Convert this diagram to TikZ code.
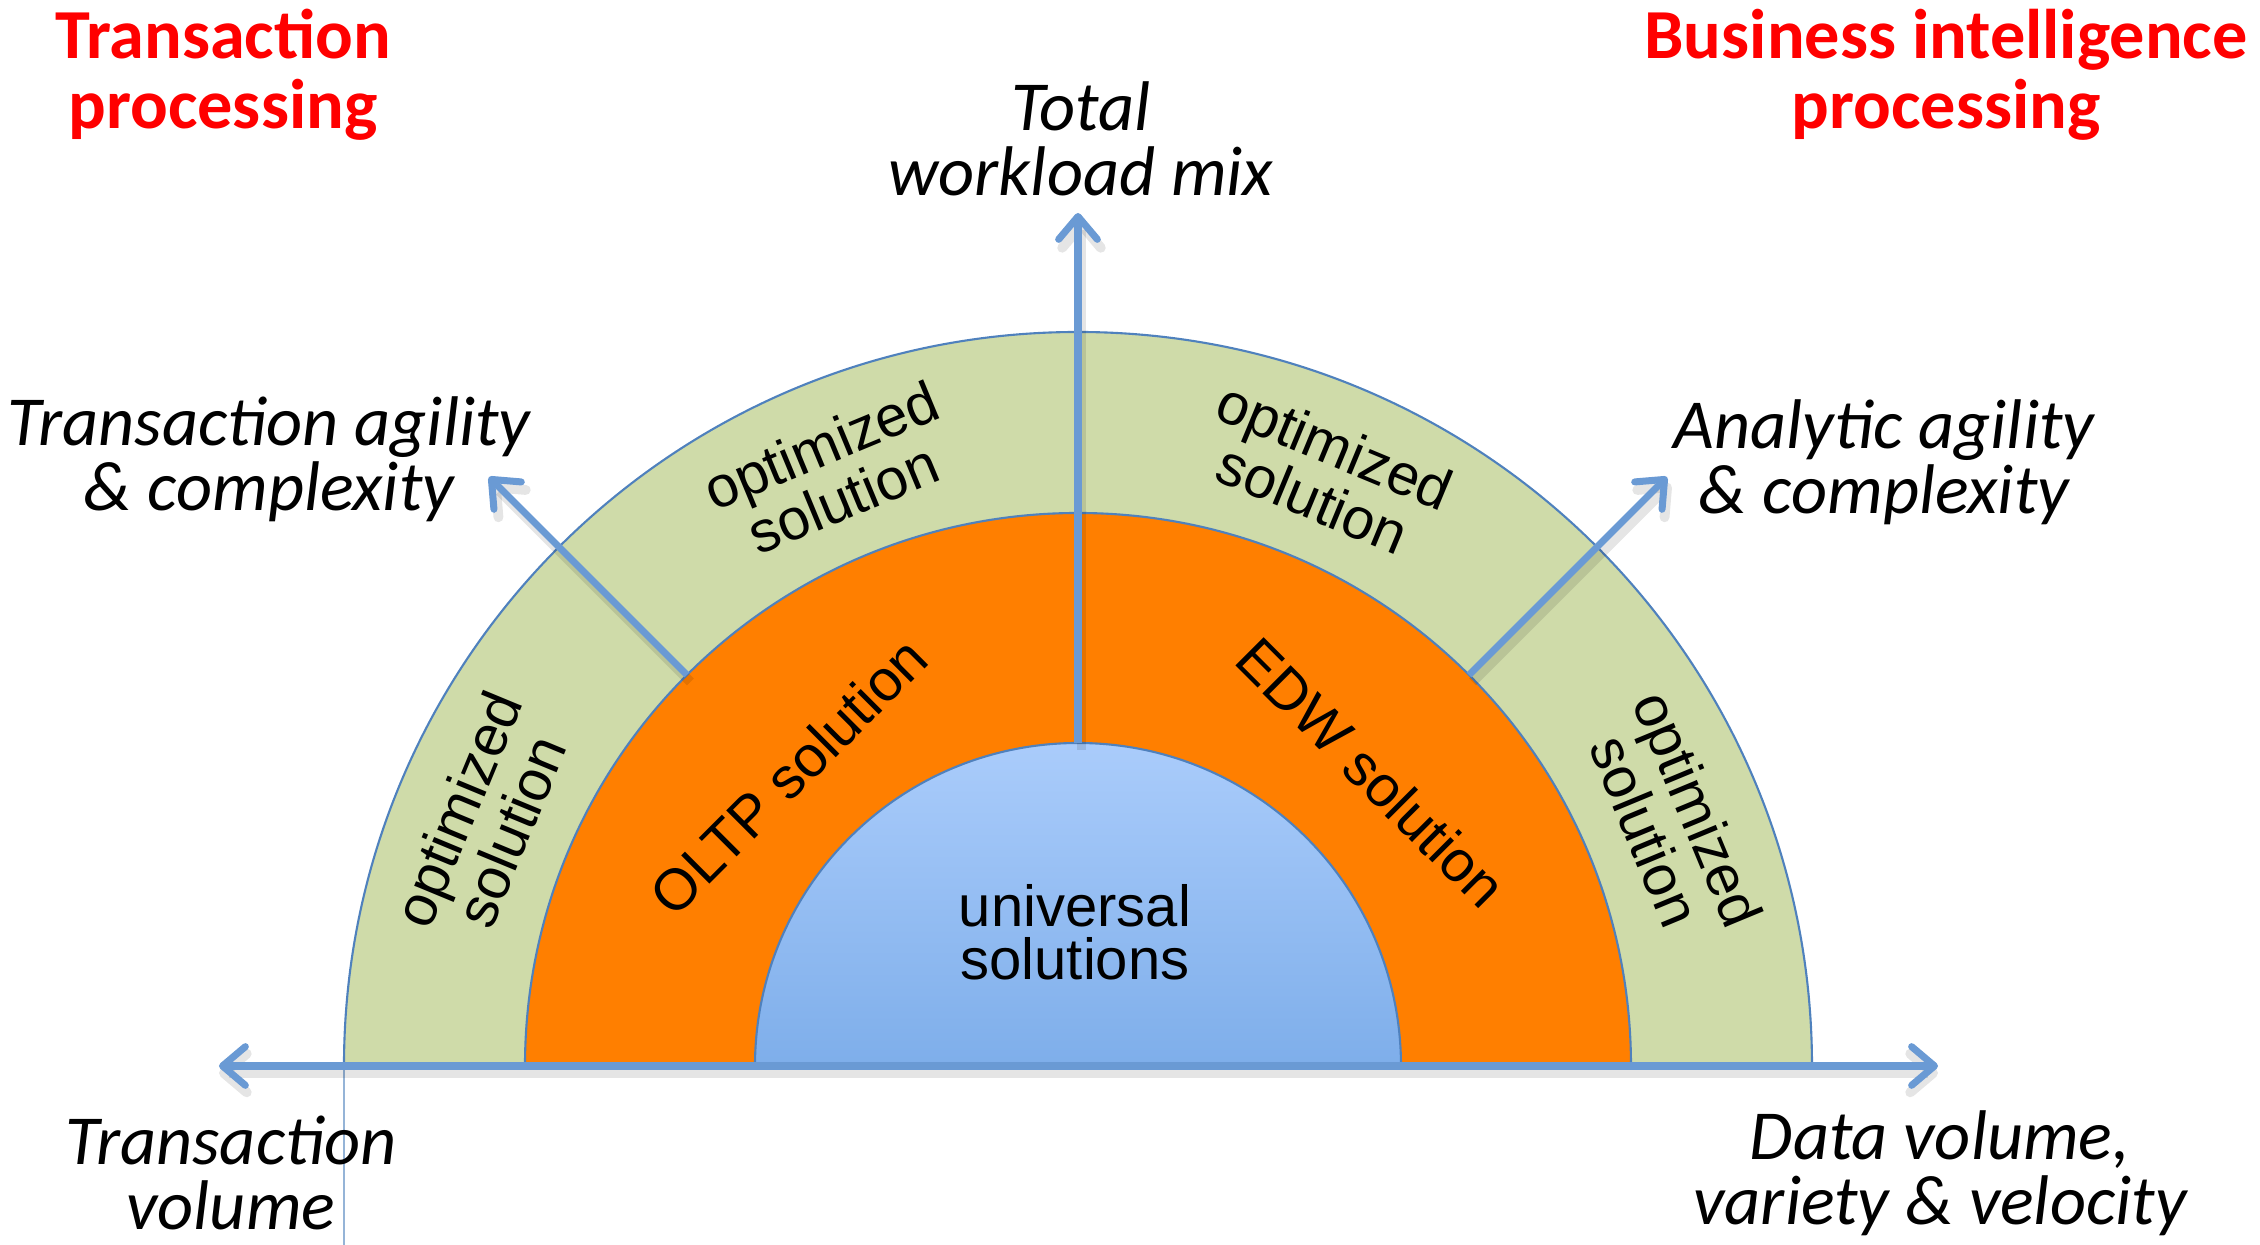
\documentclass[tikz,border=0pt]{standalone}
\usepackage{fontspec}
\setmainfont{Carlito}
\newfontfamily\arialfont{Liberation Sans}
\usetikzlibrary{arrows.meta}
\definecolor{RingGreen}{HTML}{CFDBA9}
\definecolor{RingOrange}{HTML}{FF7F00}
\definecolor{CoreTop}{HTML}{AACCFB}
\definecolor{CoreBottom}{HTML}{7EAEEA}
\definecolor{EdgeBlue}{HTML}{4F81BD}
\definecolor{AxisBlue}{HTML}{6A9AD4}
\definecolor{TitleRed}{HTML}{FF0000}
\tikzset{
  barb/.tip={Straight Barb[length=6.5pt,width=11pt,round]},
  ringedge/.style={draw=EdgeBlue,line width=0.6pt},
  axisarrow/.style={draw=AxisBlue,line width=2pt,-barb},
  axisshade/.style={draw=black,opacity=0.10,line width=2.8pt,-barb},
  headlabel/.style={font=\fontsize{20}{20}\selectfont\bfseries,
    text=TitleRed,align=center,inner sep=0pt},
  axislabel/.style={font=\fontsize{20}{18.5}\selectfont\itshape,
    align=center,inner sep=0pt},
  ringlabel/.style={font=\arialfont\fontsize{16.5}{15}\selectfont,
    align=center,inner sep=0pt},
}

\begin{document}
\begin{tikzpicture}
  \useasboundingbox (-10.78,-1.79) rectangle (11.82,10.66);
  \coordinate (center) at (0,0);
  \coordinate (vol left) at (-8.59,0);
  \coordinate (vol right) at (8.60,0);
  \coordinate (core top) at (90:3.23);
  \coordinate (mix tip) at (90:8.53);
  \coordinate (tx start) at (135:5.53);
  \coordinate (tx tip) at (135:8.33);
  \coordinate (an start) at (45:5.53);
  \coordinate (an tip) at (45:8.33);
  \fill[RingGreen] (7.34,0) arc (0:180:7.34) -- cycle;
  \draw[ringedge] (7.34,0) arc (0:180:7.34);
  \draw[EdgeBlue!60,line width=0.4pt] (-7.34,0) -- (-7.34,-1.79);
  \fill[RingOrange] (5.53,0) arc (0:180:5.53) -- cycle;
  \draw[ringedge] (5.53,0) arc (0:180:5.53);
  \shade[top color=CoreTop,bottom color=CoreBottom] (3.23,0) arc (0:180:3.23) -- cycle;
  \draw[ringedge] (3.23,0) arc (0:180:3.23);
  \draw[axisshade,barb-barb] ([yshift=-2pt]vol left) -- ([yshift=-2pt]vol right);
  \draw[axisshade] ([shift={(1pt,-2pt)}]core top) -- ([shift={(1pt,-2pt)}]mix tip);
  \draw[axisshade] ([shift={(1pt,-2pt)}]tx start) -- ([shift={(1pt,-2pt)}]tx tip);
  \draw[axisshade] ([shift={(1pt,-2pt)}]an start) -- ([shift={(1pt,-2pt)}]an tip);
  \draw[axisarrow,barb-barb] (vol left) -- (vol right);
  \draw[axisarrow] (core top) -- (mix tip);
  \draw[axisarrow] (tx start) -- (tx tip);
  \draw[axisarrow] (an start) -- (an tip);
  \node[ringlabel] (universal) at (-0.03,1.34) {universal\\solutions};
  \node[ringlabel,rotate=45] (oltp) at (135:4.1) {OLTP solution};
  \node[ringlabel,rotate=-45] (edw) at (45:4.15) {EDW solution};
  \foreach \a/\n in {22.5/1,67.5/2,112.5/3,157.5/4}
    \node[ringlabel,rotate=\a-90] (opt\n) at (\a:6.43) {optimized\\solution};
  \node[headlabel] (txproc) at (-8.55,9.91) {Transaction\\processing};
  \node[headlabel] (biproc) at (8.68,9.91) {Business intelligence\\processing};
  \node[axislabel] (mix) at (0.03,9.27) {Total\\workload mix};
  \node[axislabel] (txagile) at (-8.09,6.07) {Transaction agility\\\& complexity};
  \node[axislabel] (anagile) at (8.06,6.04) {Analytic agility\\\& complexity};
  \node[axislabel] (txvol) at (-8.47,-1.07) {Transaction\\volume};
  \node[axislabel] (datavol) at (8.62,-1.07) {Data volume,\\variety \& velocity};
\end{tikzpicture}
\end{document}
